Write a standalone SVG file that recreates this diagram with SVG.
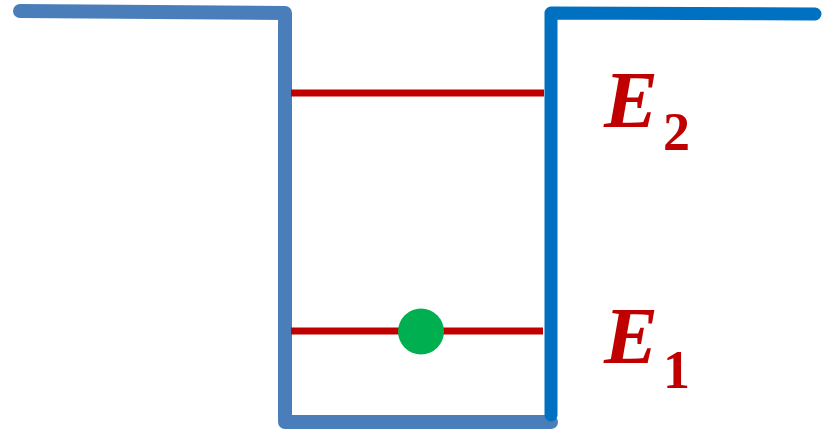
<svg xmlns="http://www.w3.org/2000/svg" width="825" height="430" viewBox="0 0 825 430">
<style>
.wellL{fill:none;stroke:#4A7EBB;stroke-width:14;stroke-linecap:round;stroke-linejoin:round}
.wellR{fill:none;stroke:#0070C0;stroke-width:13;stroke-linecap:round;stroke-linejoin:round}
.lvl{stroke:#C00000;stroke-width:7}
.lab{font-weight:bold;fill:#C00000}
</style>
<g id="connectors">
<polyline class="wellL" points="20,11 285,13 285,422 551,422"/>
<polyline class="wellR" points="815,14 551,13 551,415"/>
<line class="lvl" x1="291" y1="93" x2="544" y2="93"/>
<line class="lvl" x1="291" y1="331" x2="543" y2="331"/>
</g>
<g id="electron"><circle cx="421" cy="331.5" r="23" fill="#00B050"/></g>
<g id="E2"><text class="lab" font-family="Liberation Serif, Times New Roman, serif" x="604" y="127" font-size="81" font-style="italic">E</text><text class="lab" font-family="Liberation Serif, Times New Roman, serif" x="663" y="150" font-size="54">2</text></g>
<g id="E1"><text class="lab" font-family="Liberation Serif, Times New Roman, serif" x="604" y="363" font-size="81" font-style="italic">E</text><text class="lab" font-family="Liberation Serif, Times New Roman, serif" x="663" y="388" font-size="54">1</text></g>
</svg>
